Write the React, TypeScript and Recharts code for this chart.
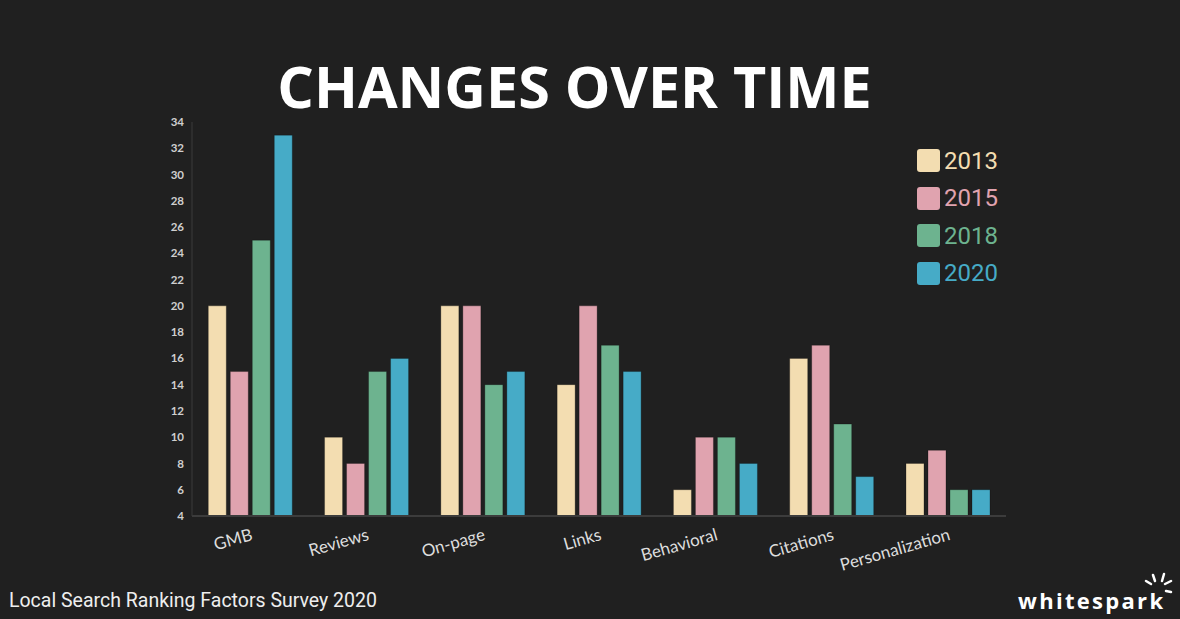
import React from 'react';
import { BarChart, Bar, XAxis, YAxis } from 'recharts';

const categories = ['GMB', 'Reviews', 'On-page', 'Links', 'Behavioral', 'Citations', 'Personalization'];
const values2013 = [20, 10, 20, 14, 6, 16, 8];
const values2015 = [15, 8, 20, 20, 10, 17, 9];
const values2018 = [25, 15, 14, 17, 10, 11, 6];
const values2020 = [33, 16, 15, 15, 8, 7, 6];
const yTicks = [4, 6, 8, 10, 12, 14, 16, 18, 20, 22, 24, 26, 28, 30, 32, 34];

const series = [
  { key: 'y2013', name: '2013', color: '#f3ddb1' },
  { key: 'y2015', name: '2015', color: '#e0a3af' },
  { key: 'y2018', name: '2018', color: '#6db38f' },
  { key: 'y2020', name: '2020', color: '#46abc7' },
];

const chartData = categories.map((name, i) => ({
  name,
  y2013: values2013[i],
  y2015: values2015[i],
  y2018: values2018[i],
  y2020: values2020[i],
}));

const BG = '#202020';

export default function App() {
  return (
    <div
      style={{
        position: 'absolute',
        left: 0,
        top: 0,
        width: 1180,
        height: 619,
        background: BG,
        overflow: 'hidden',
      }}
    >
      <div
        style={{
          position: 'absolute',
          left: 0,
          top: 50,
          width: 1149,
          textAlign: 'center',
          color: '#ffffff',
          fontFamily: '"Open Sans", sans-serif',
          fontWeight: 700,
          fontSize: 57.5,
          lineHeight: '72px',
        }}
      >
        CHANGES OVER TIME
      </div>

      <BarChart
        width={1180}
        height={619}
        data={chartData}
        margin={{ top: 122, right: 174, left: 162, bottom: 43 }}
        barCategoryGap="14%"
        barGap={4}
      >
        <XAxis
          dataKey="name"
          height={60}
          interval={0}
          tickLine={false}
          axisLine={{ stroke: '#3c3c3c', strokeWidth: 2 }}
          tick={{ fill: '#dddddd', fontSize: 17, fontFamily: 'Lato, sans-serif' }}
          angle={-16}
          textAnchor="end"
          tickMargin={6}
        />
        <YAxis
          width={30}
          domain={[4, 34]}
          ticks={yTicks}
          interval={0}
          allowDataOverflow
          tickLine={false}
          axisLine={{ stroke: '#3a3a3a', strokeWidth: 1 }}
          tick={{ fill: '#cfcfcf', fontSize: 11.5, fontWeight: 700, fontFamily: 'Lato, sans-serif' }}
        />
        {series.map(s => (
          <Bar
            key={s.key}
            dataKey={s.key}
            name={s.name}
            fill={s.color}
            stroke="rgba(0,0,0,0.25)"
            strokeWidth={1}
            isAnimationActive={false}
          />
        ))}
      </BarChart>

      <div style={{ position: 'absolute', left: 917, top: 142 }}>
        {series.map(s => (
          <div
            key={s.key}
            style={{ display: 'flex', alignItems: 'center', height: 37.5 }}
          >
            <div
              style={{
                width: 23,
                height: 23,
                borderRadius: 3,
                background: s.color,
                marginRight: 4,
              }}
            />
            <span
              style={{
                color: s.color,
                fontFamily: 'Roboto, sans-serif',
                fontSize: 24,
                lineHeight: '28px',
              }}
            >
              {s.name}
            </span>
          </div>
        ))}
      </div>

      <div
        style={{
          position: 'absolute',
          left: 9,
          top: 589,
          color: '#eeeeee',
          fontFamily: 'Roboto, sans-serif',
          fontSize: 19.5,
          lineHeight: '24px',
        }}
      >
        Local Search Ranking Factors Survey 2020
      </div>

      <div
        style={{
          position: 'absolute',
          left: 1018,
          top: 586,
          color: '#ffffff',
          fontFamily: '"Open Sans", sans-serif',
          fontWeight: 700,
          fontSize: 22,
          letterSpacing: 2.3,
          lineHeight: '28px',
        }}
      >
        whitespark
      </div>
      <svg
        width={32}
        height={26}
        style={{ position: 'absolute', left: 1142, top: 572 }}
      >
        <g stroke="#ffffff" strokeWidth={2.5} strokeLinecap="round">
          <line x1={11} y1={3} x2={13} y2={9} />
          <line x1={22} y1={2} x2={20} y2={9} />
          <line x1={29} y1={9} x2={23} y2={12} />
          <line x1={4} y1={9} x2={9} y2={12} />
          <line x1={29} y1={20} x2={24} y2={19} />
        </g>
      </svg>
    </div>
  );
}
